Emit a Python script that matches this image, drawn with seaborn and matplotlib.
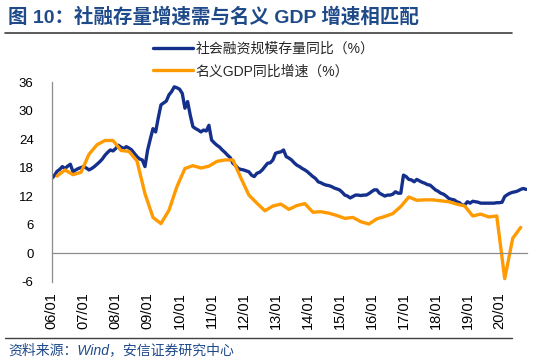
import numpy as np
import pandas as pd
import matplotlib.pyplot as plt
import matplotlib.transforms as mtransforms
from matplotlib.lines import Line2D
import seaborn as sns

# 社会融资规模存量同比（%），monthly from 2006/01
sf_2006 = [15.7, 16.3, 17.2, 17.6, 18.2, 17.8, 18.3, 18.7, 17.1, 17.5, 17.8, 18.0]
sf_2007 = [18.2, 17.9, 17.5, 17.8, 18.2, 18.7, 19.2, 19.8, 20.6, 21.2, 21.7, 21.5]
sf_2008 = [22.0, 22.7, 22.3, 22.0, 22.4, 22.1, 21.7, 21.0, 20.3, 19.8, 19.6, 18.2]
sf_2009 = [21.7, 24.0, 26.2, 25.5, 28.5, 31.2, 31.6, 32.0, 33.3, 34.0, 35.0, 34.8]
sf_2010 = [34.5, 33.6, 30.5, 31.9, 29.0, 26.6, 26.2, 25.9, 25.5, 25.9, 25.7, 26.9]
sf_2011 = [23.8, 23.2, 22.7, 22.3, 21.7, 21.2, 20.6, 20.1, 18.9, 18.4, 17.8, 17.6]
sf_2012 = [17.5, 17.3, 17.1, 16.4, 16.1, 16.8, 17.0, 17.5, 18.2, 18.9, 19.0, 19.6]
sf_2013 = [21.0, 21.2, 21.3, 21.7, 20.3, 20.0, 19.6, 19.0, 18.5, 18.2, 17.8, 17.5]
sf_2014 = [17.1, 16.6, 16.1, 15.7, 15.0, 14.8, 14.5, 14.3, 14.2, 14.0, 13.7, 13.5]
sf_2015 = [13.3, 12.8, 12.2, 12.0, 11.6, 11.9, 12.2, 12.2, 12.1, 12.2, 12.2, 12.5]
sf_2016 = [12.9, 13.3, 13.3, 12.6, 12.3, 12.0, 12.2, 12.2, 12.4, 12.9, 12.6, 12.6]
sf_2017 = [16.4, 16.1, 15.5, 15.4, 15.0, 15.5, 15.2, 14.9, 14.7, 14.4, 14.3, 13.8]
sf_2018 = [13.3, 13.0, 12.6, 12.4, 12.0, 11.5, 11.3, 11.2, 10.8, 10.6, 10.1, 10.1]
sf_2019 = [10.8, 10.5, 10.9, 10.8, 10.7, 10.5, 10.5, 10.5, 10.5, 10.5, 10.5, 10.6]
sf_2020 = [10.6, 10.7, 11.9, 12.3, 12.6, 12.8, 12.9, 13.1, 13.4, 13.6, 13.4]

# 名义GDP同比增速（%），quarterly from 2006Q1
gdp_2006 = [16.2, 17.5, 16.5, 17.0]
gdp_2007 = [20.8, 22.8, 23.7, 23.7]
gdp_2008 = [21.6, 21.4, 19.4, 12.5]
gdp_2009 = [7.5, 6.2, 9.0, 14.0]
gdp_2010 = [17.8, 18.4, 17.9, 18.3]
gdp_2011 = [19.3, 19.6, 19.6, 15.8]
gdp_2012 = [12.2, 10.5, 8.9, 9.9]
gdp_2013 = [10.3, 9.2, 10.0, 10.4]
gdp_2014 = [8.6, 8.7, 8.4, 7.9]
gdp_2015 = [7.3, 7.5, 6.6, 6.1]
gdp_2016 = [7.2, 7.7, 8.3, 9.8]
gdp_2017 = [11.8, 11.1, 11.2, 11.2]
gdp_2018 = [11.0, 10.8, 10.3, 9.9]
gdp_2019 = [7.8, 8.2, 7.6, 7.8]
gdp_2020 = [-5.4, 3.1, 5.4]

year_labels = ["06/01", "07/01", "08/01", "09/01", "10/01", "11/01", "12/01", "13/01",
               "14/01", "15/01", "16/01", "17/01", "18/01", "19/01", "20/01"]
y_ticks = [-6, 0, 6, 12, 18, 24, 30, 36]

BLUE = "#14308C"
ORANGE = "#FF9A00"
TITLE_BLUE = "#1F4A8A"

sf = (sf_2006 + sf_2007 + sf_2008 + sf_2009 + sf_2010 + sf_2011 + sf_2012 + sf_2013
      + sf_2014 + sf_2015 + sf_2016 + sf_2017 + sf_2018 + sf_2019 + sf_2020)
gdp = (gdp_2006 + gdp_2007 + gdp_2008 + gdp_2009 + gdp_2010 + gdp_2011 + gdp_2012 + gdp_2013
       + gdp_2014 + gdp_2015 + gdp_2016 + gdp_2017 + gdp_2018 + gdp_2019 + gdp_2020)

sf_df = pd.DataFrame({"t": 2006 + np.arange(len(sf)) / 12, "v": sf})
gdp_df = pd.DataFrame({"t": 2006 + (np.arange(len(gdp)) * 3 + 2) / 12, "v": gdp})

sns.set_style("white")
plt.rcParams["font.family"] = ["Liberation Sans", "Noto Sans CJK SC"]

fig = plt.figure(figsize=(5.5, 3.6), dpi=100)
ax = fig.add_axes([0.094, 0.218, 0.864, 0.554])

sns.lineplot(data=sf_df, x="t", y="v", ax=ax, color=BLUE, lw=2.4,
             label="社会融资规模存量同比（%）")
sns.lineplot(data=gdp_df, x="t", y="v", ax=ax, color=ORANGE, lw=2.4,
             label="名义GDP同比增速（%）")

ax.set_xlim(2006, 2020.86)
ax.set_ylim(-6, 36)
ax.set_yticks(y_ticks)
ax.set_yticklabels([str(v) for v in y_ticks])
year_ticks = 2006 + np.arange(len(year_labels))
ax.set_xticks(year_ticks)
ax.set_xlabel("")
ax.set_ylabel("")

for s in ["top", "right"]:
    ax.spines[s].set_visible(False)
ax.spines["bottom"].set_position(("data", 0))
for s in ["left", "bottom"]:
    ax.spines[s].set_color("#8C8C8C")
    ax.spines[s].set_linewidth(0.9)

ax.tick_params(axis="x", labelbottom=False, direction="out", length=4,
               color="#8C8C8C", width=0.9)
ax.tick_params(axis="y", direction="out", length=3, color="#8C8C8C", width=0.9,
               pad=10, labelsize=9.5, labelcolor="black")

trans = mtransforms.blended_transform_factory(ax.transData, ax.transAxes)
for t, lab in zip(year_ticks, year_labels):
    ax.text(t, -0.055, lab, transform=trans, rotation=90, ha="center", va="top",
            fontsize=10.5, color="black")

handles, labels = ax.get_legend_handles_labels()
ax.get_legend().remove()
fig.legend(handles, labels, loc="upper left", bbox_to_anchor=(153 / 550, 1 - 42 / 360),
           frameon=False, fontsize=10, handlelength=2.9, handletextpad=0.15,
           labelspacing=0.6, borderpad=0, borderaxespad=0)

fig.text(0.015, 1 - 17 / 360, "图 10：社融存量增速需与名义 GDP 增速相匹配",
         fontsize=14, fontweight="bold", color=TITLE_BLUE, va="center", ha="left")
fig.add_artist(Line2D([5 / 550, 512 / 550], [1 - 33 / 360] * 2, color="#404040", lw=1.2))
fig.add_artist(Line2D([5 / 550, 512 / 550], [1 - 338 / 360] * 2, color="#404040", lw=1.0))
fig.text(0.015, 1 - 350 / 360, "资料来源：Wind，安信证券研究中心", fontsize=10,
         style="italic", color=TITLE_BLUE, va="center", ha="left")

fig.savefig("out.png", dpi=100)
